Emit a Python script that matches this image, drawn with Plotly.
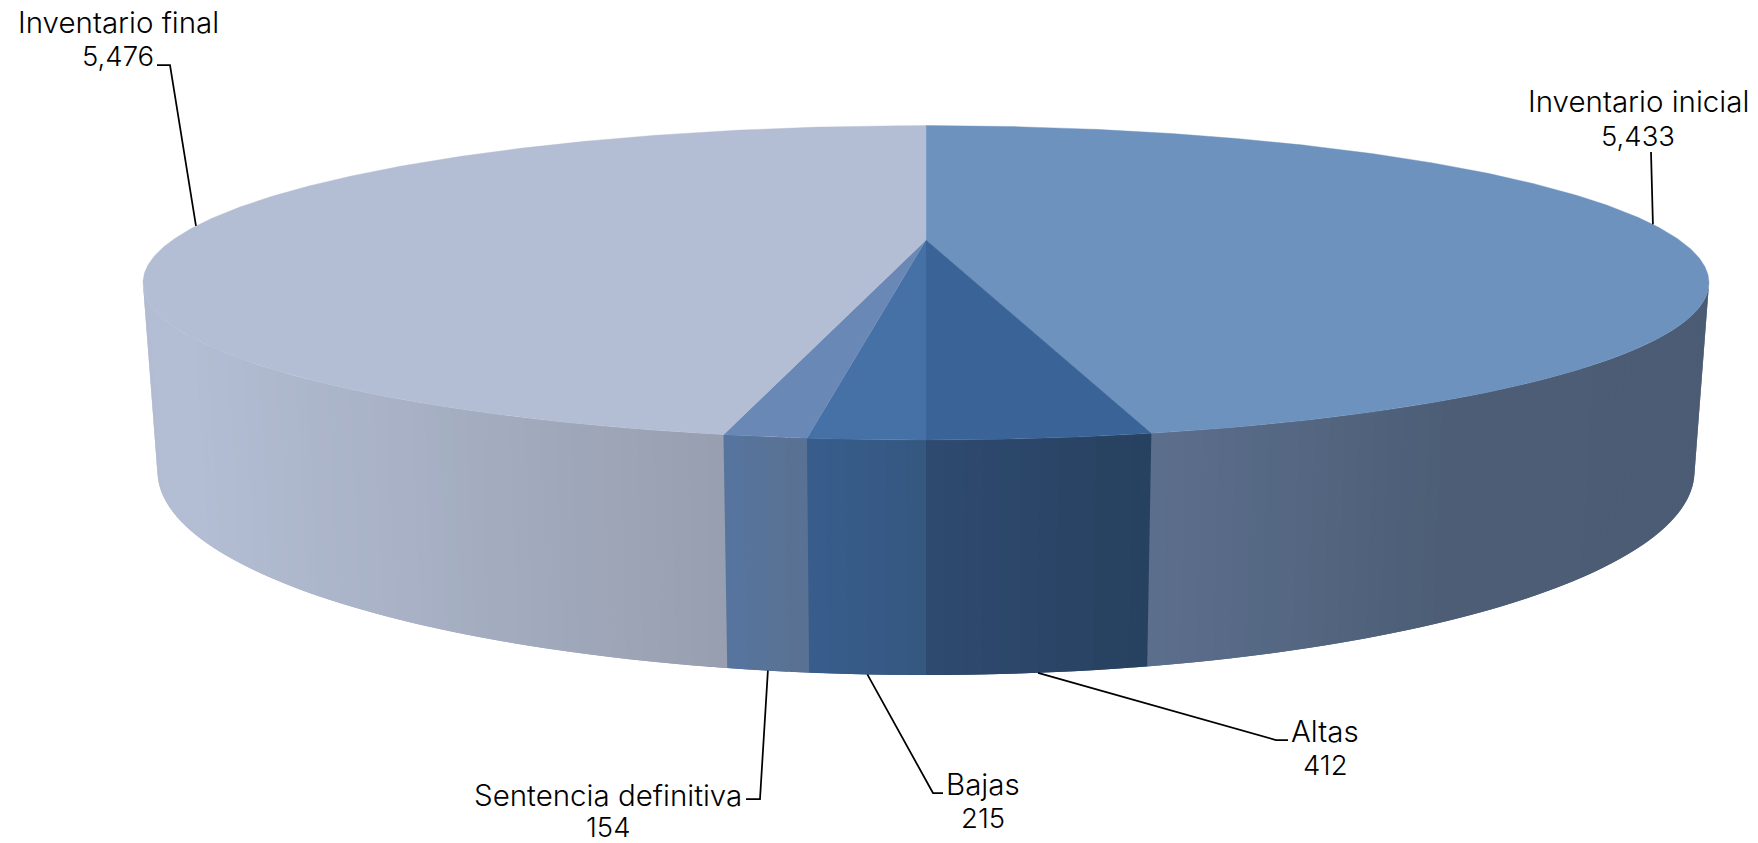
import math
import plotly.graph_objects as go

# ---- data ----
categories = ["Inventario inicial", "Altas", "Bajas", "Sentencia definitiva", "Inventario final"]
values = [5433, 412, 215, 154, 5476]

# ---- styling ----
top_colors = ["#6C92BD", "#3A6397", "#4571A7", "#6A88B5", "#B3BDD3"]
# side colour stops per slice: (horizontal page position, colour)
side_stops = [
    [(1146, "#5C6F8D"), (1446, "#4C5D75"), (1710, "#4B5C74")],
    [(926, "#2E4A70"), (1146, "#27415F")],
    [(809, "#385D8D"), (926, "#34577F")],
    [(727, "#55749F"), (809, "#5A7291")],
    [(145, "#AEB8CF"), (165, "#B3BDD3"), (200, "#B3BDD3"), (727, "#979FB0")],
]
FONT = "Inter"
NAME_SIZE = 29.5
VALUE_SIZE = 27.5

# ---- perspective model of the disc (pixel axes) ----
CX, K = 926.0, 0.2723
TOP = dict(apex=240.0, half_w=783.0, down=200.0)
BOT = dict(apex=416.0, half_w=768.5, down=259.0)


def project(theta_deg, plane):
    t = math.radians(theta_deg)
    X, Y = math.sin(t), math.cos(t)
    a = plane["half_w"] * math.sqrt(1 - K * K)
    c = plane["down"] * (1 - K)
    den = 1 + K * Y
    return CX + a * X / den, plane["apex"] - c * Y / den


def hex2rgb(h):
    return tuple(int(h[i:i + 2], 16) for i in (1, 3, 5))


def blend(stops, x):
    if x <= stops[0][0]:
        return stops[0][1]
    for (x0, c0), (x1, c1) in zip(stops, stops[1:]):
        if x <= x1:
            u = (x - x0) / (x1 - x0)
            a, b = hex2rgb(c0), hex2rgb(c1)
            return "rgb(%d,%d,%d)" % tuple(round(a[i] + (b[i] - a[i]) * u) for i in range(3))
    return stops[-1][1]


total = sum(values)
edges = [0.0]
for v in values:
    edges.append(edges[-1] + 360.0 * v / total)
mids = [(a + b) / 2 for a, b in zip(edges, edges[1:])]

vis_start = math.degrees(math.acos(-K))
vis_end = 360 - vis_start

fig = go.Figure()


def poly(xs, ys, color, lw=0.0):
    fig.add_trace(go.Scatter(x=xs + xs[:1], y=ys + ys[:1], mode="lines", fill="toself",
                             fillcolor=color, line=dict(color=color, width=lw),
                             hoverinfo="skip", showlegend=False))


# side wall: each band runs on past its end and the next band paints over it,
# so no seams show between neighbouring bands
for i in range(len(values)):
    a = max(edges[i], vis_start)
    b = min(edges[i + 1], vis_end)
    if b <= a:
        continue
    n = max(2, int((b - a) / 1.0))
    for j in range(n):
        t0 = a + (b - a) * j / n
        t1 = min(a + (b - a) * (j + 2) / n, vis_end)
        tm = a + (b - a) * (j + 0.5) / n
        p = [project(t0, TOP), project(t1, TOP), project(t1, BOT), project(t0, BOT)]
        poly([q[0] for q in p], [q[1] for q in p], blend(side_stops[i], project(tm, BOT)[0]))

# top face
apex = (CX, TOP["apex"])
for i in range(len(values)):
    a, b = edges[i], edges[i + 1]
    n = max(4, int((b - a) / 0.5))
    arc = [project(a + (b - a) * j / n, TOP) for j in range(n + 1)]
    poly([apex[0]] + [q[0] for q in arc], [apex[1]] + [q[1] for q in arc], top_colors[i], 0.4)

# leader lines: start on the rim at each slice's mid angle
leader_plane = [TOP, BOT, BOT, BOT, TOP]
leader_path = [
    [(1651, 152)],
    [(1276, 740), (1288, 740)],
    [(933, 793), (943, 793)],
    [(760, 799), (746, 799)],
    [(170, 65), (157, 65)],
]
for i in range(len(values)):
    s = project(mids[i], leader_plane[i])
    fig.add_trace(go.Scatter(x=[s[0]] + [q[0] for q in leader_path[i]],
                             y=[s[1]] + [q[1] for q in leader_path[i]],
                             mode="lines", line=dict(color="#000000", width=1.75),
                             hoverinfo="skip", showlegend=False))

# labels: (x centre, y of name line, y of value line)
label_pos = [(1638, 101, 136), (1325, 731, 765), (983, 784, 818), (608, 795, 826.5), (118, 22, 56)]
ann = []
for name, v, (x, y1, y2) in zip(categories, values, label_pos):
    for text, y, size in ((name, y1, NAME_SIZE), (f"{v:,}", y2, VALUE_SIZE)):
        ann.append(dict(x=x, y=y, xref="x", yref="y", text=text, showarrow=False,
                        xanchor="center", yanchor="middle",
                        font=dict(family=FONT, size=size, color="#000000", weight=300)))

fig.update_layout(
    width=1758, height=843, margin=dict(l=0, r=0, t=0, b=0),
    paper_bgcolor="#FFFFFF", plot_bgcolor="#FFFFFF", showlegend=False,
    xaxis=dict(range=[0, 1758], visible=False, fixedrange=True),
    yaxis=dict(range=[843, 0], visible=False, fixedrange=True),
    annotations=ann,
)
fig.write_html("out.html", config=dict(displayModeBar=False),
               post_script="document.body.style.margin='0';")
